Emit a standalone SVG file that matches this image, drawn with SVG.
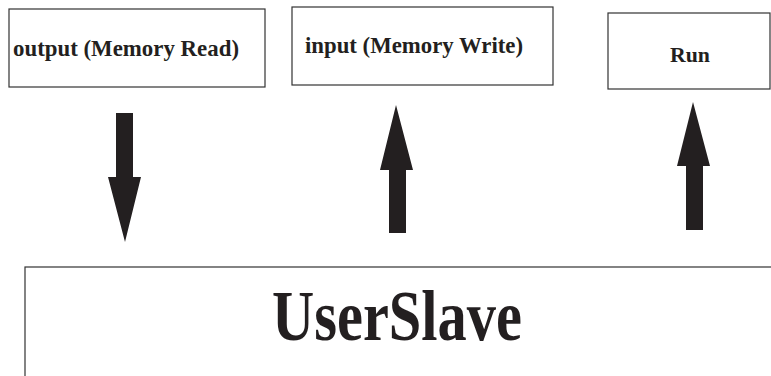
<svg xmlns="http://www.w3.org/2000/svg" width="771" height="376" viewBox="0 0 771 376">
<style>
.box{fill:#fff;stroke:#333;stroke-width:1.2}
.lbl{font-family:'Liberation Serif',serif;font-weight:700;fill:#231f20}
.arr{fill:#231f20}
</style>
<rect width="771" height="376" fill="#fff"/>
<g id="output">
<rect class="box" x="9" y="9" width="256" height="78"/>
<text class="lbl" x="13" y="56" font-size="24" textLength="226" lengthAdjust="spacingAndGlyphs">output (Memory Read)</text>
</g>
<g id="input">
<rect class="box" x="292" y="7" width="261" height="78"/>
<text class="lbl" x="305" y="53" font-size="24" textLength="218" lengthAdjust="spacingAndGlyphs">input (Memory Write)</text>
</g>
<g id="run">
<rect class="box" x="608" y="13" width="162" height="76"/>
<text class="lbl" x="670" y="62" font-size="22" textLength="40" lengthAdjust="spacingAndGlyphs">Run</text>
</g>
<g id="userslave">
<rect class="box" x="25" y="267" width="760" height="130"/>
<text class="lbl" x="272" y="340" font-size="72" textLength="250" lengthAdjust="spacingAndGlyphs">UserSlave</text>
</g>
<g id="connectors">
<polygon class="arr" points="116,113 133,113 133,177 141,177 125,242 108,177 116,177"/>
<polygon class="arr" points="396,105 413,170 406,170 406,233 389,233 389,170 380,170"/>
<polygon class="arr" points="693,102 710,166 703,166 703,230 686,230 686,166 677,166"/>
</g>
</svg>
